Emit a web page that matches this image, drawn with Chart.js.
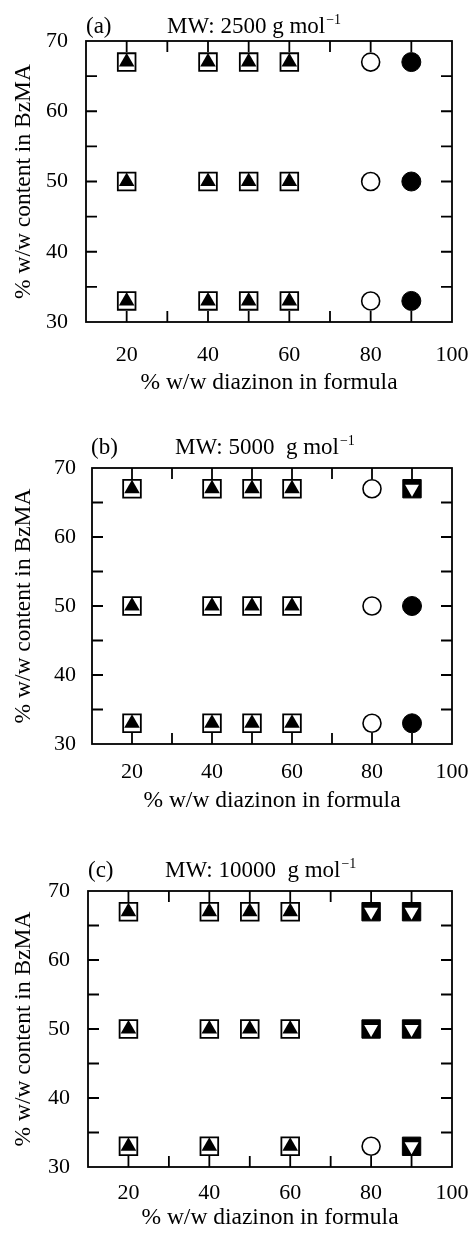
<!DOCTYPE html>
<html><head><meta charset="utf-8">
<script src="https://cdn.jsdelivr.net/npm/chart.js@4.4.0/dist/chart.umd.min.js"></script>
<style>
html,body{margin:0;padding:0;background:#fff;width:472px;height:1237px;overflow:hidden;position:relative}
canvas{position:absolute;left:0}
</style></head><body>
<canvas id="ca" width="472" height="405" style="top:0px"></canvas>
<canvas id="cb" width="472" height="410" style="top:410px"></canvas>
<canvas id="cc" width="472" height="407" style="top:830px"></canvas>
<script>
// ---- data ----
const xTickLabels = [20, 40, 60, 80, 100];
const yTickLabels = [30, 40, 50, 60, 70];
const xMinorTicks = [20, 30, 40, 50, 60, 70, 80, 90];
const yMinorTicks = [35, 40, 45, 50, 55, 60, 65];

const aSquareTri = [[20,33],[20,50],[20,67],[40,33],[40,50],[40,67],[50,33],[50,50],[50,67],[60,33],[60,50],[60,67]];
const aOpenCircle = [[80,33],[80,50],[80,67]];
const aFilledCircle = [[90,33],[90,50],[90,67]];
const aFilledSquareInvTri = [];

const bSquareTri = [[20,33],[20,50],[20,67],[40,33],[40,50],[40,67],[50,33],[50,50],[50,67],[60,33],[60,50],[60,67]];
const bOpenCircle = [[80,33],[80,50],[80,67]];
const bFilledCircle = [[90,33],[90,50]];
const bFilledSquareInvTri = [[90,67]];

const cSquareTri = [[20,33],[20,50],[20,67],[40,33],[40,50],[40,67],[50,50],[50,67],[60,33],[60,50],[60,67]];
const cOpenCircle = [[80,33]];
const cFilledCircle = [];
const cFilledSquareInvTri = [[80,50],[80,67],[90,33],[90,50],[90,67]];

const panelLabels = ['(a)', '(b)', '(c)'];
const panelTitles = ['MW: 2500 g mol', 'MW: 5000  g mol', 'MW: 10000  g mol'];
const xTitle = '% w/w diazinon in formula';
const yTitle = '% w/w content in BzMA';

// ---- helpers ----
const FONT = "'Liberation Serif', 'Times New Roman', serif";
const pts = arr => arr.map(p => ({x: p[0], y: p[1]}));

function datasets(sqTri, openC, fillC, fillSqInv) {
  return [
    {data: pts(sqTri), pointStyle: 'triangle', pointRadius: 9, backgroundColor: '#000', borderWidth: 0},
    {data: pts(sqTri), pointStyle: 'rect', pointRadius: 12.5, backgroundColor: '#fff', borderColor: '#000', borderWidth: 1.8},
    {data: pts(fillSqInv), pointStyle: 'triangle', rotation: 180, pointRadius: 8, backgroundColor: '#fff', borderWidth: 0},
    {data: pts(fillSqInv), pointStyle: 'rect', pointRadius: 13, backgroundColor: '#000', borderColor: '#000', borderWidth: 1},
    {data: pts(openC), pointStyle: 'circle', pointRadius: 9, backgroundColor: '#fff', borderColor: '#000', borderWidth: 1.6},
    {data: pts(fillC), pointStyle: 'circle', pointRadius: 9.5, backgroundColor: '#000', borderColor: '#000', borderWidth: 1}
  ].map(d => Object.assign({showLine: false, pointHoverRadius: d.pointRadius}, d));
}

const framePlugin = {
  id: 'frame',
  beforeDatasetsDraw(chart) {
    const {ctx, chartArea: a, scales} = chart;
    const tl = 11;
    ctx.save();
    ctx.strokeStyle = '#000';
    ctx.lineWidth = 1.8;
    ctx.strokeRect(a.left, a.top, a.right - a.left, a.bottom - a.top);
    ctx.beginPath();
    xMinorTicks.forEach(v => {
      const px = scales.x.getPixelForValue(v);
      ctx.moveTo(px, a.top); ctx.lineTo(px, a.top + tl);
      ctx.moveTo(px, a.bottom); ctx.lineTo(px, a.bottom - tl);
    });
    yMinorTicks.forEach(v => {
      const py = scales.y.getPixelForValue(v);
      ctx.moveTo(a.left, py); ctx.lineTo(a.left + tl, py);
      ctx.moveTo(a.right, py); ctx.lineTo(a.right - tl, py);
    });
    ctx.stroke();
    ctx.restore();
  },
  afterDraw(chart, args, o) {
    const ctx = chart.ctx;
    ctx.save();
    ctx.fillStyle = '#000';
    ctx.textBaseline = 'alphabetic';
    ctx.textAlign = 'left';
    ctx.font = '23px ' + FONT;
    ctx.fillText(o.label, o.labelX, o.baseY);
    ctx.fillText(o.title, o.titleX, o.baseY);
    const w = ctx.measureText(o.title).width;
    ctx.font = '14px ' + FONT;
    ctx.fillText('\u22121', o.titleX + w + 1, o.baseY - 9);
    ctx.restore();
  }
};

function makePanel(id, idx, ds, geo) {
  const canvas = document.getElementById(id);
  const H = canvas.height;
  new Chart(canvas, {
    type: 'scatter',
    data: {datasets: ds},
    plugins: [framePlugin],
    options: {
      responsive: false, animation: false, devicePixelRatio: 1,
      layout: {padding: {top: geo.top, right: 472 - geo.right, left: 0, bottom: 0}},
      plugins: {
        legend: {display: false}, tooltip: {enabled: false},
        frame: {label: panelLabels[idx], title: panelTitles[idx], labelX: geo.labelX, titleX: geo.titleX, baseY: geo.baseY}
      },
      scales: {
        x: {
          type: 'linear', min: 10, max: 100,
          grid: {display: false, drawTicks: false, tickLength: 0}, border: {display: false},
          ticks: {stepSize: 10, autoSkip: false, maxRotation: 0, padding: geo.xPad, color: '#000',
            font: {family: FONT, size: 22},
            callback: v => xTickLabels.includes(v) ? String(v) : ''},
          title: {display: true, text: xTitle, color: '#000', font: {family: FONT, size: 23.5}, padding: {top: 0, bottom: geo.xTitlePad}},
          afterFit: s => { s.height = H - geo.bottom; s.paddingLeft = 0; s.paddingRight = 0; }
        },
        y: {
          type: 'linear', min: 30, max: 70,
          grid: {display: false, drawTicks: false, tickLength: 0}, border: {display: false},
          ticks: {stepSize: 5, autoSkip: false, padding: geo.yPad, color: '#000',
            font: {family: FONT, size: 22},
            callback: v => yTickLabels.includes(v) ? String(v) : ''},
          title: {display: true, text: yTitle, color: '#000', font: {family: FONT, size: 23.5}, padding: {top: 10, bottom: 0}},
          afterFit: s => { s.width = geo.left; s.paddingTop = 0; s.paddingBottom = 0; }
        }
      }
    }
  });
}

makePanel('ca', 0, datasets(aSquareTri, aOpenCircle, aFilledCircle, aFilledSquareInvTri),
  {top: 41, bottom: 322, left: 86, right: 452, xPad: 20, xTitlePad: 8, yPad: 18, labelX: 86, titleX: 167, baseY: 33});
makePanel('cb', 1, datasets(bSquareTri, bOpenCircle, bFilledCircle, bFilledSquareInvTri),
  {top: 58, bottom: 334, left: 92, right: 452, xPad: 15, xTitlePad: 5, yPad: 16, labelX: 91, titleX: 175, baseY: 44});
makePanel('cc', 2, datasets(cSquareTri, cOpenCircle, cFilledCircle, cFilledSquareInvTri),
  {top: 61, bottom: 337, left: 88, right: 452, xPad: 13, xTitlePad: 5, yPad: 18, labelX: 88, titleX: 165, baseY: 47});
</script>
</body></html>
